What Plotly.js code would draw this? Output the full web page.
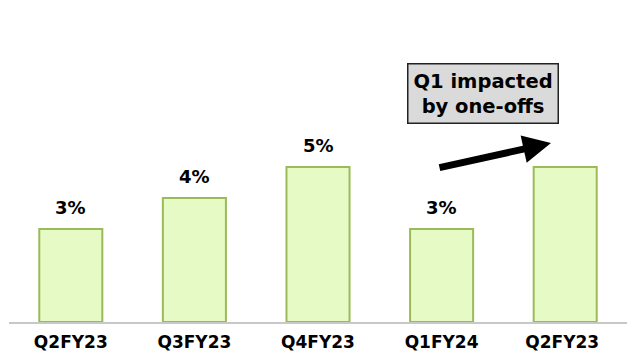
<!DOCTYPE html>
<html>
<head>
<meta charset="utf-8">
<script src="https://cdn.plot.ly/plotly-3.0.1.min.js"></script>
<style>html,body{margin:0;padding:0;background:#fff;overflow:hidden;}#chart{width:627px;height:354px;}</style>
</head>
<body>
<div id="chart"></div>
<script>
var categories = ["Q2FY23", "Q3FY23", "Q4FY23", "Q1FY24", "Q2FY23 "];
var values = [3, 4, 5, 3, 5];
var valueLabels = ["3%", "4%", "5%", "3%", ""];
var calloutText = "Q1 impacted<br>by one-offs";

var FONT = "DejaVu Sans, Verdana, sans-serif";

var trace = {
  type: "bar",
  x: categories,
  y: values,
  marker: {
    color: "#e6fac6",
    line: {color: "#9bbb59", width: 2}
  },
  hoverinfo: "skip"
};

var annotations = [];
for (var i = 0; i < categories.length; i++) {
  if (!valueLabels[i]) continue;
  annotations.push({
    x: categories[i], y: values[i], xref: "x", yref: "y",
    text: "<b>" + valueLabels[i] + "</b>",
    showarrow: false, yanchor: "middle", yshift: 22,
    font: {family: FONT, size: 18, color: "#000"}
  });
}
// arrow
annotations.push({
  xref: "paper", yref: "paper",
  x: (551 - 9) / 618, y: (322 - 143) / 322,
  ax: -113, ay: 25, axref: "pixel", ayref: "pixel",
  text: "", showarrow: true,
  arrowhead: 2, arrowsize: 0.8, arrowwidth: 7, arrowcolor: "#000"
});
// callout box
annotations.push({
  xref: "paper", yref: "paper",
  x: (482.5 - 9) / 618, y: (322 - 93) / 322,
  xanchor: "center", yanchor: "middle",
  text: "<b>" + calloutText + "</b>",
  showarrow: false,
  font: {family: FONT, size: 19.5, color: "#000"},
  bgcolor: "#dadada", bordercolor: "#222", borderwidth: 1.5, borderpad: 5
});

var layout = {
  width: 627, height: 354,
  margin: {l: 9, r: 0, t: 0, b: 32},
  paper_bgcolor: "#fff", plot_bgcolor: "#fff",
  showlegend: false,
  bargap: 0.49,
  xaxis: {
    type: "category",
    showline: true, linecolor: "#c8c8c8", linewidth: 2,
    showgrid: false, zeroline: false, ticks: "",
    ticklabelstandoff: 4,
    tickfont: {family: FONT, size: 17, color: "#000", weight: "bold"},
    fixedrange: true
  },
  yaxis: {
    range: [0, 322 / 31],
    visible: false, showgrid: false, zeroline: false, fixedrange: true
  },
  annotations: annotations
};

Plotly.newPlot("chart", [trace], layout, {displayModeBar: false, staticPlot: true});
</script>
</body>
</html>
